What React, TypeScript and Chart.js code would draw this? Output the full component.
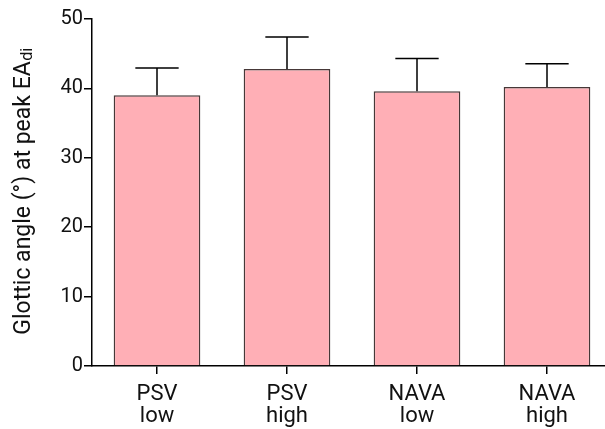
import React, { useEffect, useRef } from "react";
import { Chart, registerables } from "chart.js";

Chart.register(...registerables);

const categories: string[][] = [["PSV", "low"], ["PSV", "high"], ["NAVA", "low"], ["NAVA", "high"]];
const means: number[] = [39.0, 42.8, 39.6, 40.2];
const errors: number[] = [3.95, 4.6, 4.7, 3.35];
const yTicks: number[] = [0, 10, 20, 30, 40, 50];
const titleMain = "Glottic angle (°) at peak EA";
const titleSub = "di";

const FONT = "Roboto";

const errorBarPlugin = {
  id: "errorBars",
  afterDatasetsDraw(chart: any) {
    const ctx = chart.ctx;
    const meta = chart.getDatasetMeta(0);
    const yScale = chart.scales.y;
    ctx.save();
    ctx.strokeStyle = "#000";
    ctx.lineWidth = 1.5;
    meta.data.forEach((bar: any, i: number) => {
      const x = bar.x;
      const yTop = yScale.getPixelForValue(means[i]);
      const yErr = yScale.getPixelForValue(means[i] + errors[i]);
      const half = bar.width / 4;
      ctx.beginPath();
      ctx.moveTo(x, yTop);
      ctx.lineTo(x, yErr);
      ctx.moveTo(x - half, yErr);
      ctx.lineTo(x + half, yErr);
      ctx.stroke();
    });
    ctx.restore();
  },
};

const yTitlePlugin = {
  id: "yTitle",
  afterDraw(chart: any) {
    const ctx = chart.ctx;
    const area = chart.chartArea;
    const cy = (area.top + area.bottom) / 2 - 1;
    const cx = 30;
    ctx.save();
    ctx.translate(cx, cy);
    ctx.rotate(-Math.PI / 2);
    ctx.fillStyle = "#111";
    ctx.textBaseline = "alphabetic";
    const mainFont = `23px ${FONT}`;
    const subFont = `16px ${FONT}`;
    ctx.font = mainFont;
    const wMain = ctx.measureText(titleMain).width;
    ctx.font = subFont;
    const wSub = ctx.measureText(titleSub).width;
    const total = wMain + wSub;
    const x0 = -total / 2;
    ctx.font = mainFont;
    ctx.textAlign = "left";
    ctx.fillText(titleMain, x0, 0);
    ctx.font = subFont;
    ctx.fillText(titleSub, x0 + wMain + 0.5, 2);
    ctx.restore();
  },
};

export default function App() {
  const ref = useRef<HTMLCanvasElement | null>(null);

  useEffect(() => {
    if (!ref.current) return;
    const chart = new Chart(ref.current, {
      type: "bar",
      data: {
        labels: categories,
        datasets: [
          {
            data: means,
            backgroundColor: "#ffafb6",
            borderColor: "#463838",
            borderWidth: 1.5,
            barPercentage: 2 / 3,
            categoryPercentage: 1,
          },
        ],
      },
      options: {
        animation: false,
        responsive: false,
        maintainAspectRatio: false,
        layout: { padding: { top: 19, right: 0, left: 0, bottom: 0 } },
        plugins: { legend: { display: false }, tooltip: { enabled: false } },
        scales: {
          x: {
            offset: true,
            grid: {
              offset: false,
              drawOnChartArea: false,
              drawTicks: true,
              tickLength: 8,
              color: "#000",
              lineWidth: 1.5,
            },
            border: { display: true, color: "#000", width: 1.5 },
            ticks: {
              color: "#111",
              padding: 9,
              font: { family: FONT, size: 22, lineHeight: 1.0 },
              maxRotation: 0,
              autoSkip: false,
            },
            afterFit: (s: any) => {
              s.height = 63;
            },
          },
          y: {
            min: 0,
            max: 50,
            afterBuildTicks: (s: any) => {
              s.ticks = yTicks.map((v) => ({ value: v }));
            },
            grid: {
              drawOnChartArea: false,
              drawTicks: true,
              tickLength: 8,
              color: "#000",
              lineWidth: 1.5,
            },
            border: { display: true, color: "#000", width: 1.5 },
            ticks: {
              color: "#111",
              padding: 1,
              font: { family: FONT, size: 20 },
            },
            afterFit: (s: any) => {
              s.width = 92;
            },
          },
        },
      },
      plugins: [errorBarPlugin, yTitlePlugin],
    });
    return () => chart.destroy();
  }, []);

  return (
    <div style={{ position: "fixed", left: 0, top: 0, width: 605, height: 429, overflow: "hidden", background: "#fff" }}>
      <canvas ref={ref} width={612} height={429} style={{ display: "block" }} />
    </div>
  );
}
